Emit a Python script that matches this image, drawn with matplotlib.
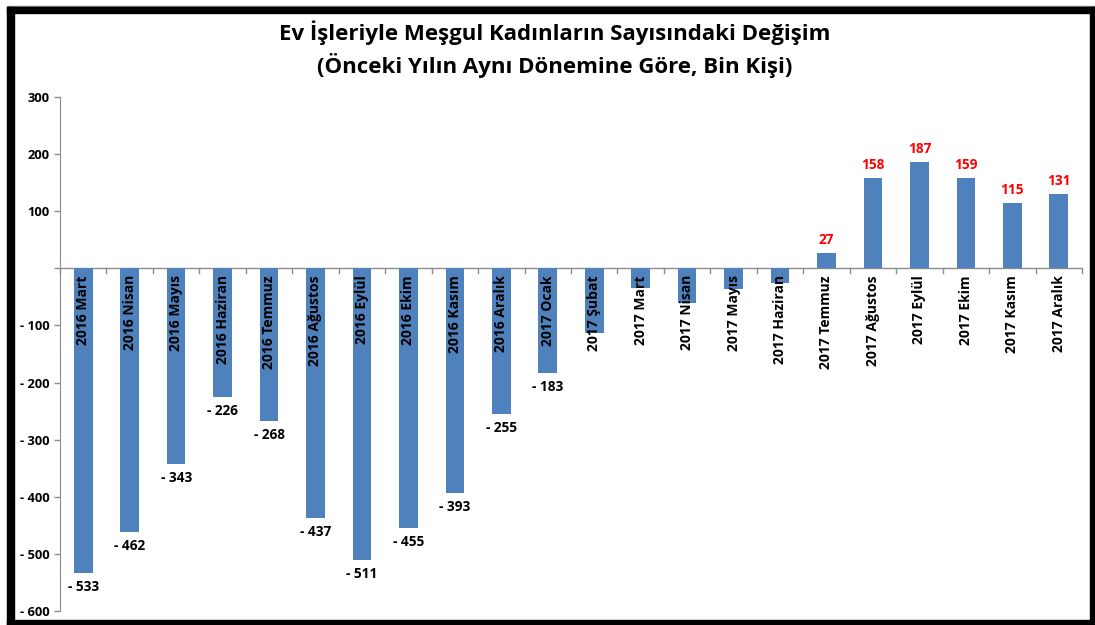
import matplotlib
matplotlib.use("Agg")
import matplotlib.pyplot as plt
from matplotlib.patches import Rectangle
from matplotlib.ticker import FixedLocator, FuncFormatter

categories = ["2016 Mart", "2016 Nisan", "2016 Mayıs", "2016 Haziran", "2016 Temmuz",
              "2016 Ağustos", "2016 Eylül", "2016 Ekim", "2016 Kasım", "2016 Aralık",
              "2017 Ocak", "2017 Şubat", "2017 Mart", "2017 Nisan", "2017 Mayıs",
              "2017 Haziran", "2017 Temmuz", "2017 Ağustos", "2017 Eylül", "2017 Ekim",
              "2017 Kasım", "2017 Aralık"]
values = [-533, -462, -343, -226, -268, -437, -511, -455, -393, -255, -183,
          -114, -35, -60, -37, -26, 27, 158, 187, 159, 115, 131]
show_label = [True] * 11 + [False] * 5 + [True] * 6
yticks = [300, 200, 100, 0, -100, -200, -300, -400, -500, -600]

plt.rcParams['font.family'] = ['Open Sans', 'DejaVu Sans']

fig = plt.figure(figsize=(10.95, 6.25), dpi=100)
ax = fig.add_axes([60/1095, 1-611/625, (1082-60)/1095, (611-97)/625])

x = list(range(len(categories)))
ax.bar(x, values, width=0.4, color='#4F81BD', zorder=2)
ax.set_xlim(-0.5, len(categories) - 0.5)
ax.set_ylim(-600, 300)

for xi, v, name, sl in zip(x, values, categories, show_label):
    ax.text(xi, -12, name, rotation=90, ha='center', va='top', fontsize=10,
            fontweight='bold', color='black', zorder=3)
    if sl:
        if v < 0:
            ax.text(xi, v - 12, f"- {abs(v)}", ha='center', va='top', fontsize=9.8,
                    fontweight='bold', color='black')
        else:
            ax.text(xi, v + 10, f"{v}", ha='center', va='bottom', fontsize=9.8,
                    fontweight='bold', color='#FF0000')

for s in ['top', 'right', 'bottom']:
    ax.spines[s].set_visible(False)
ax.spines['left'].set_color('#8C8C8C')
ax.axhline(0, color='#8C8C8C', lw=1, zorder=1)
for b in range(len(categories) + 1):
    ax.plot([b - 0.5, b - 0.5], [0, -8], color='#8C8C8C', lw=1, zorder=1, clip_on=False)

ax.yaxis.set_major_locator(FixedLocator(yticks))
ax.yaxis.set_major_formatter(FuncFormatter(lambda v, p: f"- {abs(int(v))}" if v < 0 else ("" if v == 0 else f"{int(v)}")))
ax.tick_params(axis='y', colors='#8C8C8C', labelcolor='black', labelsize=9.3, length=4, width=1)
for lab in ax.get_yticklabels():
    lab.set_fontweight('bold')
ax.set_xticks([])

fig.text(555/1095, 1-33/625, "Ev İşleriyle Meşgul Kadınların Sayısındaki Değişim",
         ha='center', va='center', fontsize=16, fontweight='bold', color='black')
fig.text(555/1095, 1-65/625, "(Önceki Yılın Aynı Dönemine Göre, Bin Kişi)",
         ha='center', va='center', fontsize=16, fontweight='bold', color='black')

# frame
fig.patches.append(Rectangle((7/1095, 1-7/625), 1-7/1095, 1/625, transform=fig.transFigure,
                             color='#888888', zorder=0))
fig.patches.append(Rectangle((7/1095, 1-13/625), 1-7/1095, 6/625, transform=fig.transFigure,
                             color='black', zorder=0))
fig.patches.append(Rectangle((7/1095, 0), 7/1095, 1-7/625, transform=fig.transFigure,
                             color='black', zorder=0))
fig.patches.append(Rectangle((7/1095, 0), 1-7/1095, 5/625, transform=fig.transFigure,
                             color='black', zorder=0))
fig.patches.append(Rectangle((1-5/1095, 0), 5/1095, 1-7/625, transform=fig.transFigure,
                             color='black', zorder=0))

fig.savefig("out.png", dpi=100)
